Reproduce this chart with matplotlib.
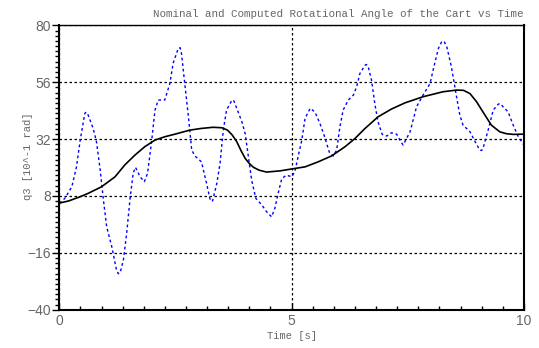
import matplotlib
matplotlib.use("Agg")
import matplotlib.pyplot as plt
from matplotlib.ticker import AutoMinorLocator

# computed (smooth) rotational angle of the cart, 10^-1 rad
t_computed = [0, 0.2, 0.45, 0.62, 0.91, 1.2, 1.41, 1.63, 1.84, 2.06, 2.27, 2.49,
              2.81, 3.05, 3.31, 3.50, 3.62, 3.72, 3.82, 3.91, 4.0, 4.09, 4.18,
              4.30, 4.46, 4.75, 5.0, 5.29, 5.57, 5.86, 6.15, 6.36, 6.58, 6.86,
              7.15, 7.44, 7.83, 8.26, 8.55, 8.70, 8.84, 8.98, 9.07, 9.16, 9.30,
              9.48, 9.62, 9.77, 10.0]
q3_computed = [5.0, 5.9, 7.7, 9.1, 11.9, 16.1, 21.1, 25.3, 28.8, 31.6, 33.0, 34.1,
               35.8, 36.5, 37.0, 36.8, 35.8, 33.8, 30.9, 27.2, 23.9, 21.7, 20.1,
               18.9, 18.1, 18.6, 19.4, 20.3, 22.4, 24.9, 28.8, 32.2, 36.5, 41.4,
               44.7, 47.3, 49.9, 52.0, 52.7, 52.6, 51.2, 47.8, 45.0, 42.2, 37.9,
               35.1, 34.3, 34.0, 34.1]

# nominal rotational angle
t_nominal = [0, 0.12, 0.27, 0.37, 0.45, 0.55, 0.58, 0.62, 0.73, 0.80, 0.88,
             0.95, 1.02, 1.13, 1.23, 1.27, 1.31, 1.38, 1.45, 1.52, 1.59, 1.64,
             1.74, 1.83, 1.90, 1.99, 2.06, 2.13, 2.27, 2.38, 2.45, 2.56, 2.60,
             2.63, 2.70, 2.78, 2.85, 2.92, 3.06, 3.17, 3.24, 3.27, 3.30, 3.39,
             3.46, 3.53, 3.60, 3.71, 3.75, 3.82, 3.93, 4.00, 4.07, 4.14, 4.23,
             4.36, 4.46, 4.57, 4.64, 4.71, 4.79, 4.89, 5.00, 5.07, 5.14,
             5.22, 5.29, 5.40, 5.50, 5.61, 5.71, 5.82, 5.90, 5.97, 6.04,
             6.11, 6.22, 6.33, 6.40, 6.47, 6.58, 6.61, 6.65, 6.72, 6.79, 6.86,
             6.95, 7.05, 7.15, 7.26, 7.33, 7.40, 7.55, 7.69, 7.83, 7.98,
             8.08, 8.16, 8.23, 8.28, 8.34, 8.44, 8.55, 8.62, 8.69, 8.84, 8.95,
             9.05, 9.09, 9.12, 9.23, 9.34, 9.45, 9.49, 9.55, 9.66, 9.77, 9.88, 10.0]
q3_nominal = [5.0, 7.0, 11.9, 20.3, 31.6, 42.9, 43.4, 42.2, 36.5, 30.9, 19.0,
              6.3, -5.0, -13.4, -23.2, -24.8, -24.4, -19.0, -7.8, 6.3, 17.6, 20.1,
              16.1, 14.0, 17.6, 31.6, 44.3, 48.5, 48.5, 55.5, 64.0, 70.3, 70.6,
              68.2, 55.5, 41.4, 27.4, 24.9, 22.4, 13.3, 7.0, 5.7, 6.0, 13.3,
              21.8, 35.8, 44.3, 48.2, 48.5, 45.0, 39.3, 34.4, 24.6, 14.7, 7.0,
              4.2, 1.4, -0.8, 2.8, 9.1, 15.4, 16.8, 16.1, 18.2, 24.6,
              31.6, 40.8, 45.0, 43.5, 38.6, 33.0, 26.0, 24.9, 27.4, 37.2,
              44.3, 48.5, 50.6, 54.1, 59.7, 63.2, 63.5, 62.5, 56.9, 47.1, 39.3,
              34.0, 33.3, 34.7, 34.1, 31.6, 29.5, 35.1, 45.7, 50.6, 55.5,
              64.0, 70.3, 73.1, 73.3, 71.0, 62.5, 49.9, 42.2, 37.9, 35.1, 30.9,
              27.4, 27.2, 28.1, 35.8, 44.3, 46.8, 47.0, 45.7, 43.5, 37.9, 33.0, 29.5]

x_ticks = [0, 5, 10]
y_ticks = [-40, -16, 8, 32, 56, 80]

mono = "Liberation Mono"
gray = "#666666"

fig = plt.figure(figsize=(5.39, 3.48), dpi=100)
ax = fig.add_axes([0.110, 0.110, 0.862, 0.817])

ax.plot(t_nominal, q3_nominal, color="blue", linestyle=(0, (2, 2)), linewidth=1.0)
ax.plot(t_computed, q3_computed, color="black", linewidth=1.2)

ax.set_xlim(0, 10)
ax.set_ylim(-40, 80)
ax.set_xticks(x_ticks)
ax.set_yticks(y_ticks)
ax.xaxis.set_minor_locator(AutoMinorLocator(11))
ax.yaxis.set_minor_locator(AutoMinorLocator(11))

ax.grid(True, which="major", color="black", linestyle=(0, (2, 2)), linewidth=0.9)

ax.tick_params(axis="x", which="major", direction="in", length=5, width=1,
               labelsize=10, labelcolor=gray, pad=3)
ax.tick_params(axis="x", which="minor", direction="in", length=3, width=1)
ax.tick_params(axis="y", which="major", direction="out", length=5, width=1,
               labelsize=10, labelcolor=gray, pad=1)
ax.tick_params(axis="y", which="minor", direction="out", length=3, width=1)
for lbl in ax.get_xticklabels() + ax.get_yticklabels():
    lbl.set_family("Liberation Sans")

for side in ["left", "bottom", "right"]:
    ax.spines[side].set_linewidth(1.5)
ax.spines["top"].set_linewidth(1.0)

ax.set_title("Nominal and Computed Rotational Angle of the Cart vs Time",
             loc="right", fontsize=7.8, family=mono, color=gray, pad=6)
ax.set_xlabel("Time [s]", fontsize=7.6, family=mono, color=gray, labelpad=2)
ax.set_ylabel("q3 [10^-1 rad]", fontsize=7.6, family=mono, color=gray)
ax.yaxis.set_label_coords(-0.057, 0.54)

fig.savefig("out.png", dpi=100)
